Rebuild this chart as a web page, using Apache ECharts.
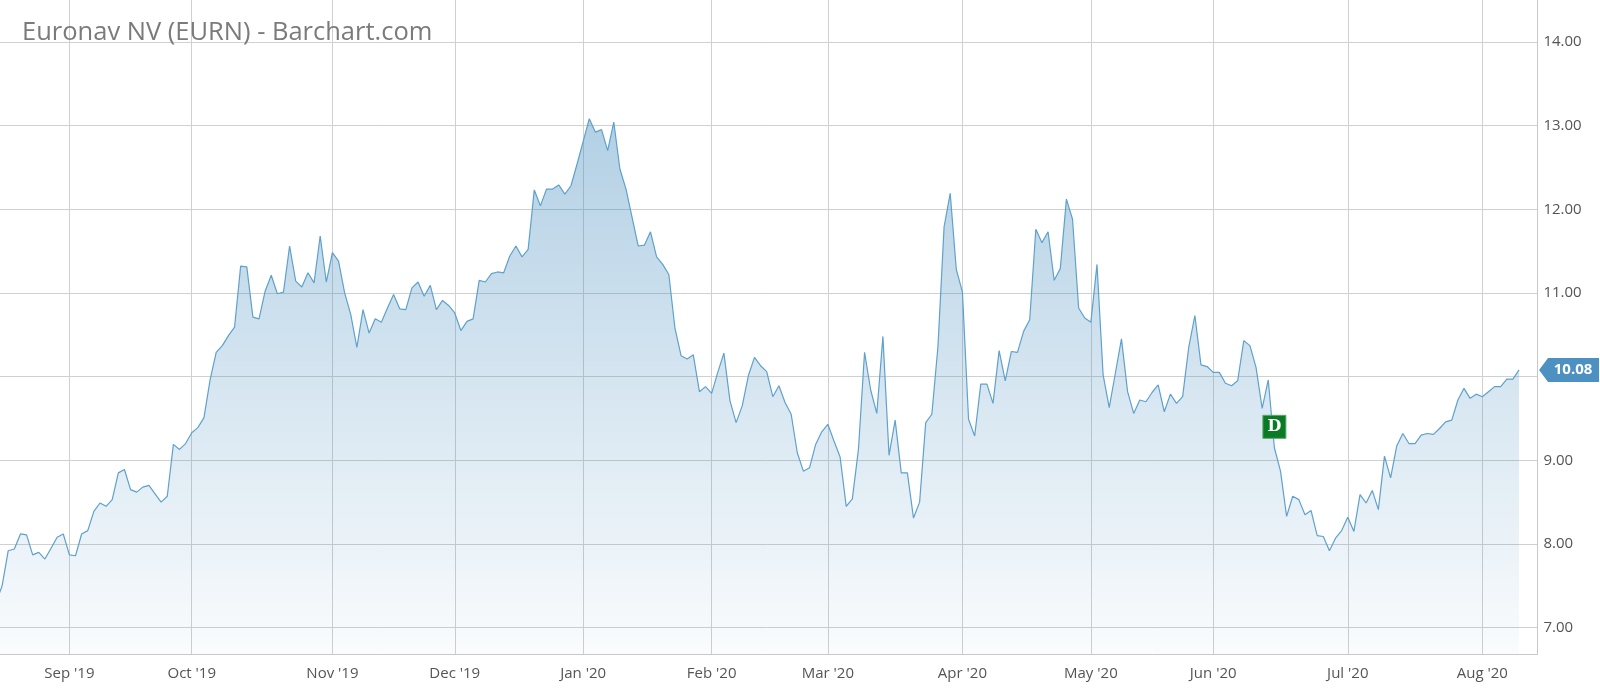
<!DOCTYPE html>
<html><head><meta charset="utf-8">
<script src="https://cdn.jsdelivr.net/npm/echarts@6/dist/echarts.min.js"></script>
<style>html,body{margin:0;padding:0;background:#fff;overflow:hidden}
#c{position:absolute;left:-4px;top:0;width:1604px;height:691px}</style>
</head><body><div id="c"></div>
<script>
// ---------- data ----------
const titleText = 'Euronav NV (EURN) - Barchart.com';
const firstDate = '2019-08-15';
const lastDate = '2020-08-14';          // axis extends a few sessions past the last close
const holidays = ['2019-09-02','2019-11-28','2019-12-25','2020-01-01','2020-01-20',
                  '2020-02-17','2020-04-10','2020-05-25','2020-07-03'];
const monthNames = ['Jan','Feb','Mar','Apr','May','Jun','Jul','Aug','Sep','Oct','Nov','Dec'];

const aug19 = [7.30,7.50,7.92,7.94,8.12,8.11,7.87,7.90,7.82,7.95,8.08,8.12];
const sep19 = [7.87,7.86,8.12,8.16,8.39,8.49,8.45,8.53,8.85,8.89,8.65,8.62,8.68,8.70,8.60,8.50,8.57,9.19,9.13,9.20];
const oct19 = [9.33,9.39,9.51,9.96,10.29,10.37,10.49,10.59,11.32,11.31,10.71,10.69,11.02,11.21,10.99,11.01,11.56,11.14,11.07,11.24,11.12,11.68,11.13];
const nov19 = [11.48,11.38,11.00,10.74,10.35,10.80,10.52,10.69,10.65,10.82,10.98,10.81,10.80,11.06,11.13,10.96,11.09,10.80,10.91,10.85];
const dec19 = [10.76,10.55,10.66,10.69,11.15,11.13,11.23,11.25,11.24,11.44,11.56,11.43,11.52,12.23,12.04,12.24,12.24,12.29,12.18,12.28,12.54];
const jan20 = [12.81,13.08,12.92,12.95,12.70,13.04,12.48,12.24,11.90,11.56,11.57,11.73,11.43,11.34,11.22,10.58,10.25,10.21,10.26,9.82,9.88];
const feb20 = [9.80,10.05,10.28,9.71,9.45,9.65,10.01,10.23,10.13,10.06,9.76,9.89,9.69,9.55,9.09,8.87,8.91,9.19,9.34];
const mar20 = [9.43,9.23,9.04,8.45,8.54,9.13,10.29,9.84,9.56,10.48,9.06,9.48,8.85,8.85,8.31,8.50,9.45,9.55,10.36,11.79,12.19,11.28];
const apr20 = [11.01,9.49,9.29,9.91,9.91,9.68,10.31,9.95,10.30,10.29,10.54,10.68,11.76,11.60,11.73,11.15,11.29,12.12,11.88,10.82,10.70];
const may20 = [10.65,11.34,10.02,9.63,10.04,10.45,9.82,9.56,9.72,9.70,9.81,9.90,9.58,9.79,9.68,9.76,10.35,10.73,10.14,10.12];
const jun20 = [10.05,10.05,9.92,9.89,9.95,10.43,10.37,10.11,9.62,9.96,9.15,8.87,8.33,8.57,8.53,8.35,8.40,8.10,8.09,7.92,8.07,8.16];
const jul20 = [8.32,8.15,8.59,8.49,8.64,8.41,9.05,8.79,9.17,9.32,9.20,9.20,9.30,9.32,9.31,9.38,9.46,9.48,9.72,9.86,9.74,9.79];
const aug20 = [9.76,9.82,9.88,9.88,9.97,9.97,10.08];

const lastPrice = 10.08;
const dividendDate = '2020-06-15';
const dividendMarkLevel = 9.40;
const yTickMin = 7, yTickMax = 14, yTickStep = 1;
const plotMin = 6.686, plotMax = 14.499;

// ---------- build ----------
const prices = [].concat(aug19, sep19, oct19, nov19, dec19, jan20, feb20, mar20, apr20, may20, jun20, jul20, aug20);
const dates = [];
(function () {
  const hol = new Set(holidays);
  const d = new Date(firstDate + 'T00:00:00Z');
  const end = new Date(lastDate + 'T00:00:00Z');
  while (d <= end) {
    const wd = d.getUTCDay();
    const s = d.toISOString().slice(0, 10);
    if (wd !== 0 && wd !== 6 && !hol.has(s)) dates.push(s);
    d.setUTCDate(d.getUTCDate() + 1);
  }
})();
const monthStart = new Set();
for (let i = 1; i < dates.length; i++) {
  if (dates[i].slice(5, 7) !== dates[i - 1].slice(5, 7)) monthStart.add(i);
}
const isMonthStart = (idx) => monthStart.has(idx);
const fmtMonth = (v) => monthNames[+v.slice(5, 7) - 1] + " '" + v.slice(2, 4);

const FONT = 'Open Sans';
const gridLeft = 0, gridWidth = 1541.4;

const chart = echarts.init(document.getElementById('c'), null, { renderer: 'canvas' });
chart.setOption({
  animation: false,
  backgroundColor: '#ffffff',
  title: {
    text: titleText, left: 26, top: 20, padding: 0,
    textStyle: { fontFamily: FONT, fontSize: 25.5, fontWeight: 'normal', color: '#7b7b7b' }
  },
  grid: [
    { left: gridLeft, width: gridWidth, top: 0, height: 654 },
    { left: gridLeft, width: gridWidth, top: 41.9, height: 585.8 }
  ],
  xAxis: [
    {
      type: 'category', gridIndex: 0, data: dates, boundaryGap: false,
      axisLine: { show: true, lineStyle: { color: '#c8c8c8', width: 1 } },
      axisTick: { show: false },
      axisLabel: { interval: isMonthStart, formatter: fmtMonth, color: '#555', fontSize: 15, fontFamily: FONT, margin: 12 },
      splitLine: { show: true, interval: isMonthStart, lineStyle: { color: '#d0d0d0', width: 1 } }
    },
    { type: 'value', gridIndex: 1, min: 0, max: 1, show: false }
  ],
  yAxis: [
    {
      type: 'value', gridIndex: 0, min: plotMin, max: plotMax, position: 'right',
      axisLine: { show: true, lineStyle: { color: '#c8c8c8', width: 1 } },
      axisTick: { show: false }, axisLabel: { show: false }, splitLine: { show: false }
    },
    {
      type: 'value', gridIndex: 1, min: yTickMin, max: yTickMax, interval: yTickStep, position: 'right',
      axisLine: { show: false }, axisTick: { show: false },
      axisLabel: { formatter: (v) => v.toFixed(2), color: '#555', fontSize: 15, fontFamily: FONT, margin: 6 },
      splitLine: { show: true, lineStyle: { color: '#d0d0d0', width: 1 } }
    }
  ],
  series: [
    {
      type: 'line', xAxisIndex: 0, yAxisIndex: 0, data: prices,
      showSymbol: false, symbol: 'none', silent: true,
      lineStyle: { color: '#5ea1cc', width: 1.2 },
      areaStyle: {
        color: new echarts.graphic.LinearGradient(0, 0, 0, 1, [
          { offset: 0, color: 'rgba(62,136,188,0.57)' },
          { offset: 1, color: 'rgba(62,136,188,0.04)' }
        ])
      },
      markPoint: {
        silent: true,
        data: [
          {
            coord: [dates[prices.length - 1], lastPrice],
            symbol: 'path://M0,12L9,0L60,0L60,24L9,24Z', symbolSize: [60, 24], symbolOffset: [50, 0],
            itemStyle: { color: '#4d91c3' },
            label: { show: true, formatter: lastPrice.toFixed(2), color: '#fff', fontWeight: 'bold', fontSize: 15, fontFamily: FONT, offset: [4, 0] }
          },
          {
            coord: [dividendDate, dividendMarkLevel],
            symbol: 'rect', symbolSize: [23, 23],
            itemStyle: { color: '#0b7a26', borderColor: '#5aa86b', borderWidth: 1 },
            label: { show: true, formatter: 'D', color: '#fff', fontWeight: 'bold', fontSize: 16, fontFamily: 'DejaVu Serif' }
          }
        ]
      }
    },
    { type: 'line', xAxisIndex: 1, yAxisIndex: 1, data: [] }
  ]
});
</script></body></html>
